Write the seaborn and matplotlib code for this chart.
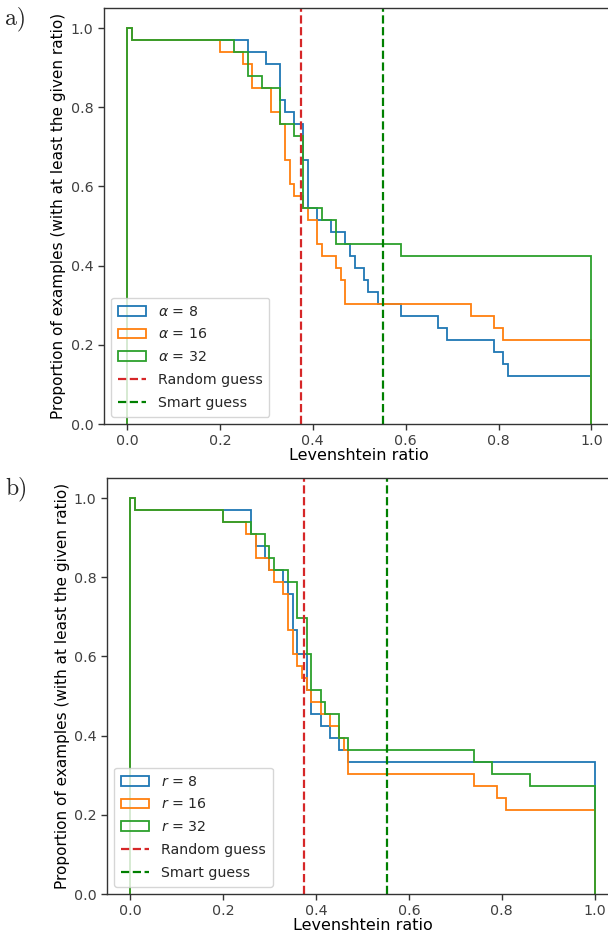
import numpy as np
import matplotlib
matplotlib.use("Agg")
import matplotlib.pyplot as plt
import seaborn as sns

# ---------------- data (Levenshtein ratios, 33 examples per configuration) --------------
alpha_labels = [r"$\alpha$ = 8", r"$\alpha$ = 16", r"$\alpha$ = 32"]
alpha8 = [0.0, 0.255, 0.295, 0.325, 0.325, 0.325, 0.335, 0.355, 0.375, 0.375, 0.375,
          0.385, 0.385, 0.385, 0.385, 0.405, 0.435, 0.465, 0.475, 0.485, 0.505, 0.515,
          0.535, 0.585, 0.665, 0.685, 0.785, 0.805, 0.815, 1.0, 1.0, 1.0, 1.0]
alpha16 = [0.0, 0.195, 0.245, 0.265, 0.265, 0.305, 0.305, 0.325, 0.335, 0.335, 0.335,
           0.345, 0.345, 0.355, 0.375, 0.385, 0.405, 0.405, 0.415, 0.445, 0.455, 0.465,
           0.465, 0.735, 0.785, 0.805, 1.0, 1.0, 1.0, 1.0, 1.0, 1.0, 1.0]
alpha32 = [0.0, 0.225, 0.255, 0.255, 0.285, 0.325, 0.325, 0.325, 0.355, 0.375, 0.375,
           0.375, 0.375, 0.375, 0.375, 0.415, 0.445, 0.445, 0.585, 1.0, 1.0, 1.0, 1.0,
           1.0, 1.0, 1.0, 1.0, 1.0, 1.0, 1.0, 1.0, 1.0, 1.0]

r_labels = [r"$r$ = 8", r"$r$ = 16", r"$r$ = 32"]
r8 = [0.0, 0.255, 0.255, 0.265, 0.285, 0.295, 0.325, 0.335, 0.345, 0.345, 0.345,
      0.355, 0.355, 0.375, 0.375, 0.375, 0.385, 0.385, 0.405, 0.425, 0.445, 0.465,
      1.0, 1.0, 1.0, 1.0, 1.0, 1.0, 1.0, 1.0, 1.0, 1.0, 1.0]
r16 = [0.0, 0.195, 0.245, 0.265, 0.265, 0.295, 0.305, 0.325, 0.335, 0.335, 0.335,
       0.345, 0.345, 0.355, 0.365, 0.375, 0.385, 0.405, 0.425, 0.445, 0.455, 0.465,
       0.465, 0.735, 0.785, 0.805, 1.0, 1.0, 1.0, 1.0, 1.0, 1.0, 1.0]
r32 = [0.0, 0.195, 0.255, 0.285, 0.295, 0.305, 0.335, 0.355, 0.355, 0.355, 0.375,
       0.375, 0.375, 0.385, 0.385, 0.385, 0.405, 0.415, 0.445, 0.445, 0.465, 0.735,
       0.775, 0.855, 1.0, 1.0, 1.0, 1.0, 1.0, 1.0, 1.0, 1.0, 1.0]

random_guess = 0.375
smart_guess = 0.552
panel_tags = ["a)", "b)"]
# ----------------------------------------------------------------------------------------

sns.set_style("ticks")
plt.rcParams["font.family"] = ["DejaVu Sans"]
plt.rcParams["axes.edgecolor"] = "0.2"
plt.rcParams["xtick.color"] = "0.2"
plt.rcParams["ytick.color"] = "0.2"
plt.rcParams["axes.labelcolor"] = "black"
plt.rcParams["xtick.labelcolor"] = "0.25"
plt.rcParams["ytick.labelcolor"] = "0.25"

palette = sns.color_palette("tab10")
bins = np.linspace(0.0, 1.0, 101)

W, H = 608, 940
fig = plt.figure(figsize=(W / 100, H / 100), dpi=100)

panels = [
    (alpha_labels, [alpha8, alpha16, alpha32], (103.7, 8.2, 424.0)),
    (r_labels, [r8, r16, r32], (106.9, 478.2, 894.0)),
]

for i, (labels, series, (left_px, top_px, bot_px)) in enumerate(panels):
    width_px = 511.0
    ax = fig.add_axes([left_px / W, (H - bot_px) / H, width_px / W, (bot_px - top_px) / H])
    for j, (lab, vals) in enumerate(zip(labels, series)):
        vals = np.asarray(vals, dtype=float)
        ax.hist(vals, bins=bins, weights=np.full(len(vals), 1.0 / len(vals)),
                cumulative=-1, histtype="step", color=palette[j], linewidth=1.3,
                label=lab)
    ax.axvline(random_guess, color="tab:red", linestyle="--", linewidth=1.6,
               label="Random guess")
    ax.axvline(smart_guess, color="green", linestyle="--", linewidth=1.6,
               label="Smart guess")
    ax.set_xlim(-0.05, 1.05)
    ax.set_ylim(0, 1.05)
    ax.set_xticks([0.0, 0.2, 0.4, 0.6, 0.8, 1.0])
    ax.set_yticks([0.0, 0.2, 0.4, 0.6, 0.8, 1.0])
    ax.tick_params(labelsize=10.3, length=4, width=1)
    ax.set_xlabel("Levenshtein ratio", fontsize=11.5, labelpad=0)
    ax.set_ylabel("Proportion of examples (with at least the given ratio)", fontsize=11,
                  labelpad=3)
    for s in ax.spines.values():
        s.set_linewidth(1.0)
    ax.legend(loc="lower left", fontsize=10.2, handlelength=2.0, borderpad=0.5,
              labelspacing=0.62)
    fig.text(5 / W, 1 - (top_px + 11) / H, panel_tags[i], fontsize=17,
             fontfamily="cmr10", va="center", ha="left")

fig.savefig("out.png", dpi=100)
